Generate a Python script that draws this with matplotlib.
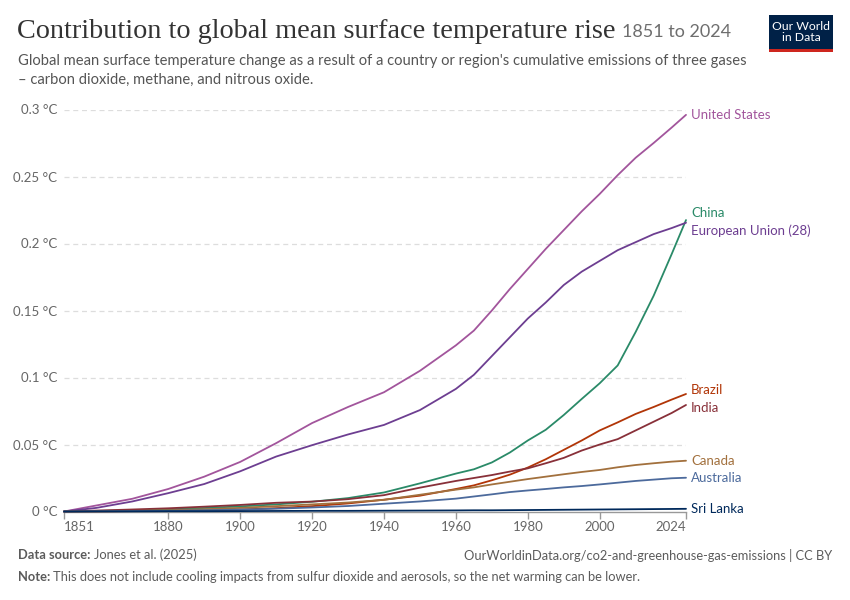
import matplotlib
matplotlib.use('Agg')
import matplotlib.pyplot as plt
from matplotlib.patches import Rectangle

# Years sampled from the chart (5-year steps where the curves bend more)
years = [1851, 1860, 1870, 1880, 1890, 1900, 1910, 1920, 1930, 1940, 1950,
         1960, 1965, 1970, 1975, 1980, 1985, 1990, 1995, 2000, 2005, 2010,
         2015, 2020, 2024]

united_states = [0, 0.0045, 0.0095, 0.0168, 0.026, 0.037, 0.051, 0.066, 0.078, 0.089, 0.105,
                 0.124, 0.135, 0.150, 0.166, 0.181, 0.196, 0.210, 0.224, 0.237, 0.251, 0.264,
                 0.275, 0.2865, 0.296]
european_union = [0, 0.0027, 0.0075, 0.0137, 0.0205, 0.030, 0.041, 0.0495, 0.0575, 0.0646, 0.0757,
                  0.0915, 0.102, 0.116, 0.130, 0.144, 0.156, 0.169, 0.179, 0.187, 0.195, 0.201,
                  0.207, 0.2115, 0.2155]
china = [0, 0.0004, 0.0009, 0.0016, 0.0026, 0.0038, 0.0053, 0.0073, 0.0100, 0.0142, 0.021,
         0.0283, 0.0315, 0.0366, 0.044, 0.053, 0.061, 0.072, 0.084, 0.0957, 0.109, 0.134,
         0.161, 0.192, 0.2175]
brazil = [0, 0.0001, 0.0003, 0.0006, 0.001, 0.0015, 0.0025, 0.004, 0.006, 0.0088, 0.0118,
          0.0168, 0.0195, 0.0233, 0.0275, 0.0328, 0.039, 0.046, 0.053, 0.0605, 0.0665, 0.0728,
          0.078, 0.0835, 0.0877]
india = [0, 0.0007, 0.0015, 0.0024, 0.0036, 0.0049, 0.0065, 0.0074, 0.0092, 0.0122, 0.0178,
         0.0228, 0.025, 0.0272, 0.0298, 0.0322, 0.036, 0.040, 0.0455, 0.050, 0.054, 0.0605,
         0.067, 0.0735, 0.0795]
canada = [0, 0.0001, 0.0004, 0.0009, 0.0017, 0.0027, 0.004, 0.0053, 0.0067, 0.0087, 0.0125,
          0.0163, 0.018, 0.0202, 0.0222, 0.0242, 0.026, 0.0278, 0.0295, 0.031, 0.033, 0.0347,
          0.036, 0.0372, 0.0379]
australia = [0, 0.0001, 0.0003, 0.0005, 0.0009, 0.0014, 0.0021, 0.003, 0.0041, 0.0058, 0.0075,
             0.0096, 0.0112, 0.0128, 0.0145, 0.0157, 0.0168, 0.018, 0.019, 0.0202, 0.0215, 0.0228,
             0.0238, 0.0248, 0.0252]
sri_lanka = [0, 0.0001, 0.0001, 0.0002, 0.0002, 0.0003, 0.0004, 0.0005, 0.0005, 0.0006, 0.0007,
             0.0008, 0.0009, 0.0009, 0.001, 0.0011, 0.0012, 0.0013, 0.0014, 0.0015, 0.0016, 0.0017,
             0.0018, 0.0019, 0.002]

x_ticks = [1851, 1880, 1900, 1920, 1940, 1960, 1980, 2000, 2024]
y_ticks = [0, 0.05, 0.1, 0.15, 0.2, 0.25, 0.3]
y_tick_labels = ['0 °C', '0.05 °C', '0.1 °C', '0.15 °C', '0.2 °C', '0.25 °C', '0.3 °C']

# name, values, colour, label nudge in pixels
series = [
    ('United States', united_states, '#a2559c', 0),
    ('China', china, '#2a8a68', 7),
    ('European Union (28)', european_union, '#6d3e91', -8),
    ('Brazil', brazil, '#b13507', 4),
    ('India', india, '#883039', -3),
    ('Canada', canada, '#a2703d', 0),
    ('Australia', australia, '#4c6a9c', 0),
    ('Sri Lanka', sri_lanka, '#00295b', 0),
]

plt.rcParams['font.family'] = ['Lato', 'DejaVu Sans']

W, H = 850, 600
fig = plt.figure(figsize=(W / 100, H / 100), dpi=100)
fig.patch.set_facecolor('white')


def fx(x):
    return x / W


def fy(y):
    return 1 - y / H


ax = fig.add_axes([fx(64), fy(511.5), fx(686) - fx(64), fy(109.5) - fy(511.5)])

for name, vals, color, nudge in series:
    ax.plot(years, vals, color=color, lw=1.3, solid_capstyle='round', clip_on=False, zorder=3)
    ax.annotate(name, xy=(years[-1], vals[-1]), xytext=(5, nudge), textcoords='offset pixels',
                color=color, fontsize=9.5, va='center', ha='left', annotation_clip=False)

ax.set_xlim(1851, 2024)
ax.set_ylim(0, 0.3)
ax.set_yticks(y_ticks)
ax.set_yticklabels(y_tick_labels)
ax.set_xticks(x_ticks)
ax.set_xticklabels([str(t) for t in x_ticks])
xl = ax.get_xticklabels()
xl[0].set_ha('left')
xl[-1].set_ha('right')

for s in ['top', 'right', 'left']:
    ax.spines[s].set_visible(False)
ax.spines['bottom'].set_color('#999999')
ax.spines['bottom'].set_linewidth(1)
ax.tick_params(axis='x', colors='#999999', labelcolor='#666666', labelsize=9.5,
               length=5, width=1, pad=2)
ax.tick_params(axis='y', length=0, labelcolor='#666666', labelsize=9.5, pad=5)
for v in y_ticks[1:]:
    ax.axhline(v, color='#dddddd', lw=0.9, ls=(0, (4, 3)), zorder=1)

# header
renderer = fig.canvas.get_renderer()
title = fig.text(fx(17), fy(31), 'Contribution to global mean surface temperature rise',
                 family=['Liberation Serif', 'DejaVu Serif'], fontsize=20.3, color='#333333',
                 va='center', ha='left')
tb = title.get_window_extent(renderer)
fig.text(tb.x1 / W + fx(7), fy(32), '1851 to 2024', fontsize=13, color='#6e6e6e',
         va='center', ha='left')
fig.text(fx(18), fy(61), "Global mean surface temperature change as a result of a country or region's "
         "cumulative emissions of three gases", fontsize=10.65, color='#555555', va='center')
fig.text(fx(18), fy(80), '– carbon dioxide, methane, and nitrous oxide.', fontsize=10.65,
         color='#555555', va='center')

# logo
fig.patches.append(Rectangle((fx(769), fy(49)), fx(64), fy(15) - fy(49), transform=fig.transFigure,
                             facecolor='#002147', edgecolor='none'))
fig.patches.append(Rectangle((fx(769), fy(52)), fx(64), fy(49) - fy(52), transform=fig.transFigure,
                             facecolor='#ce261e', edgecolor='none'))
fig.text(fx(801), fy(32), 'Our World\nin Data', fontsize=8.8, color='white', ha='center', va='center',
         linespacing=1.0)

# footer
src = fig.text(fx(18), fy(555), 'Data source:', fontsize=9.3, color='#5b5b5b', weight='bold',
               va='center')
sb = src.get_window_extent(renderer)
fig.text(sb.x1 / W + fx(3), fy(555), 'Jones et al. (2025)', fontsize=9.3, color='#5b5b5b', va='center')
fig.text(fx(832), fy(555), 'OurWorldinData.org/co2-and-greenhouse-gas-emissions | CC BY', fontsize=9.3,
         color='#5b5b5b', va='center', ha='right')
note = fig.text(fx(18), fy(577), 'Note:', fontsize=9.3, color='#5b5b5b', weight='bold', va='center')
nb = note.get_window_extent(renderer)
fig.text(nb.x1 / W + fx(3), fy(577), 'This does not include cooling impacts from sulfur dioxide and '
         'aerosols, so the net warming can be lower.', fontsize=9.3, color='#5b5b5b', va='center')

fig.savefig('out.png', dpi=100, facecolor='white')
